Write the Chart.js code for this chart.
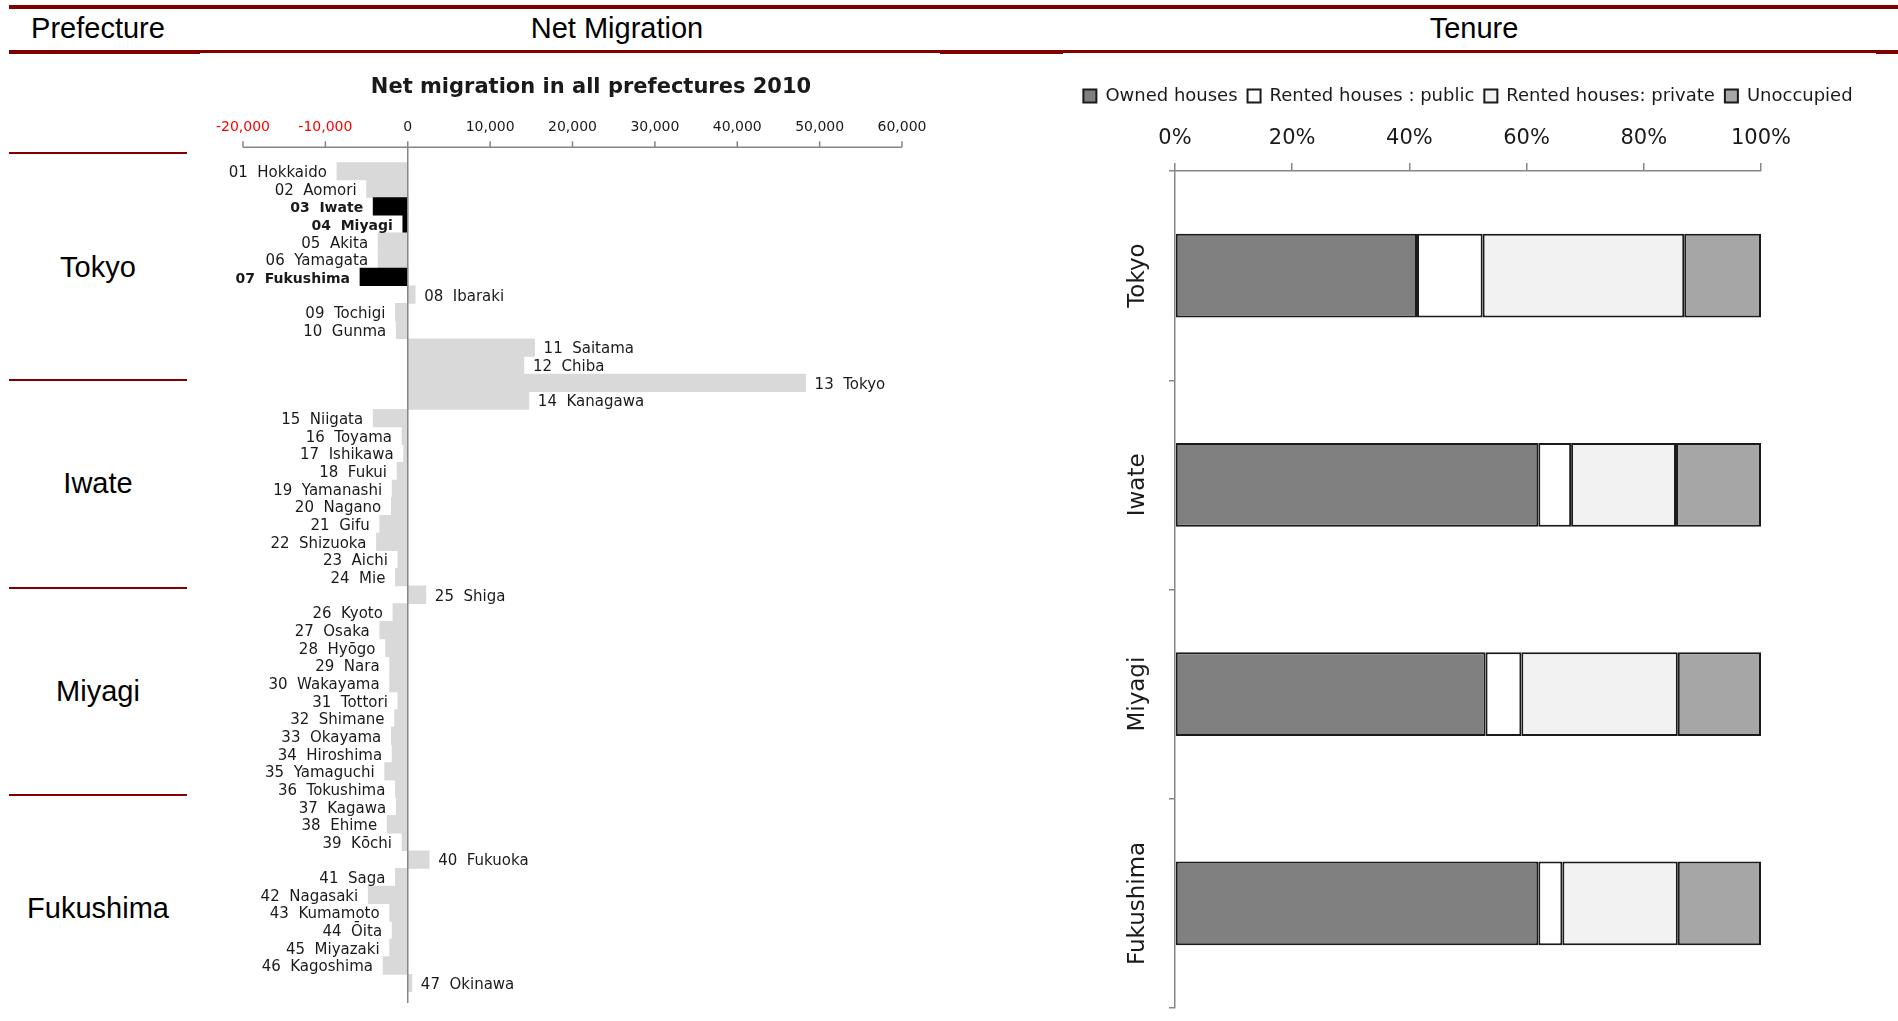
<!DOCTYPE html>
<html>
<head>
<meta charset="utf-8">
<script src="https://cdn.jsdelivr.net/npm/chart.js@4.4.1/dist/chart.umd.min.js"></script>
<style>
  html, body { margin: 0; padding: 0; background: #fff; }
  body { width: 1898px; height: 1021px; position: relative; overflow: hidden; font-family: "Liberation Sans", Arial, sans-serif; }
  .rule { position: absolute; background: #800000; }
  .head, .pref { position: absolute; font-size: 29px; color: #000; transform: translate(-50%, -50%); white-space: nowrap; }
  .box { position: absolute; }
</style>
</head>
<body>
<!-- table frame -->
<div class="rule" style="left:9px; top:5px; width:1889px; height:4px;"></div>
<div class="rule" style="left:9px; top:50px; width:191px; height:4px;"></div>
<div class="rule" style="left:200px; top:50px; width:1698px; height:3px;"></div>
<div class="rule" style="left:940px; top:51px; width:123px; height:3px;"></div>
<div class="rule" style="left:1876px; top:51px; width:22px; height:3px;"></div>

<div class="head" style="left:98px; top:28px;">Prefecture</div>
<div class="head" style="left:617px; top:28px;">Net Migration</div>
<div class="head" style="left:1474px; top:28px;">Tenure</div>

<div class="rule" style="left:9px; top:152px; width:178px; height:2px;"></div>
<div class="rule" style="left:9px; top:379px; width:178px; height:2px;"></div>
<div class="rule" style="left:9px; top:587px; width:178px; height:2px;"></div>
<div class="rule" style="left:9px; top:794px; width:178px; height:2px;"></div>

<div class="pref" style="left:98px; top:267px;">Tokyo</div>
<div class="pref" style="left:98px; top:483px;">Iwate</div>
<div class="pref" style="left:98px; top:691px;">Miyagi</div>
<div class="pref" style="left:98px; top:908px;">Fukushima</div>

<div class="box" style="left:160px; top:55px; width:800px; height:960px;"><canvas id="migrationChart"></canvas></div>
<div class="box" style="left:1063px; top:77px; width:810px; height:944px;"><canvas id="tenureChart"></canvas></div>

<script>
// Net migration 2010, all prefectures
const prefectures = ['01 Hokkaido', '02 Aomori', '03 Iwate', '04 Miyagi', '05 Akita', '06 Yamagata', '07 Fukushima',
    '08 Ibaraki', '09 Tochigi', '10 Gunma', '11 Saitama', '12 Chiba', '13 Tokyo', '14 Kanagawa',
    '15 Niigata', '16 Toyama', '17 Ishikawa', '18 Fukui', '19 Yamanashi', '20 Nagano', '21 Gifu',
    '22 Shizuoka', '23 Aichi', '24 Mie', '25 Shiga', '26 Kyoto', '27 Osaka', '28 Hyōgo', '29 Nara',
    '30 Wakayama', '31 Tottori', '32 Shimane', '33 Okayama', '34 Hiroshima', '35 Yamaguchi',
    '36 Tokushima', '37 Kagawa', '38 Ehime', '39 Kōchi', '40 Fukuoka', '41 Saga', '42 Nagasaki',
    '43 Kumamoto', '44 Ōita', '45 Miyazaki', '46 Kagoshima', '47 Okinawa'];
const netMigration = [-8600, -5000, -4200, -600, -3600, -3600, -5800,
    900, -1500, -1400, 15400, 14100, 48300, 14700,
    -4200, -700, -500, -1300, -1900, -2000, -3400,
    -3800, -1200, -1500, 2200, -1800, -3400, -2700, -2200,
    -2200, -1200, -1600, -2000, -1900, -2800,
    -1500, -1400, -2500, -700, 2600, -1500, -4800,
    -2200, -1900, -2200, -3000, 500];
const highlighted = ['03 Iwate', '04 Miyagi', '07 Fukushima'];
const migrationMin = -20000;
const migrationMax = 60000;
const migrationStep = 10000;

// Tenure shares (%)
const tenureRegions = ['Tokyo', 'Iwate', 'Miyagi', 'Fukushima'];
const tenureLabels = ['Owned houses', 'Rented houses : public', 'Rented houses: private', 'Unoccupied'];
const ownedHouses = [41.3, 62.0, 53.0, 62.0];
const rentedPublic = [11.2, 5.6, 6.1, 4.1];
const rentedPrivate = [34.4, 17.9, 26.7, 19.7];
const unoccupied = [13.1, 14.5, 14.2, 14.2];
const tenureColors = ['#808080', '#ffffff', '#f2f2f2', '#a6a6a6'];
const percentTicks = [0, 20, 40, 60, 80, 100];

const FONT = '"DejaVu Sans", Verdana, sans-serif';
const AXIS_GREY = '#868686';

// Axis line a little above the plot, tick marks and the zero line
const migrationAxis = {
    id: 'migrationAxis',
    afterDatasetsDraw(chart) {
        const {ctx, chartArea, scales: {x}} = chart;
        const axisY = chartArea.top - 15;
        ctx.save();
        ctx.strokeStyle = AXIS_GREY;
        ctx.lineWidth = 1.5;
        ctx.beginPath();
        ctx.moveTo(x.getPixelForValue(migrationMin), axisY);
        ctx.lineTo(x.getPixelForValue(migrationMax), axisY);
        x.ticks.forEach(t => {
            const px = x.getPixelForValue(t.value);
            ctx.moveTo(px, axisY);
            ctx.lineTo(px, axisY - 6);
        });
        const zx = x.getPixelForValue(0);
        ctx.moveTo(zx, axisY);
        ctx.lineTo(zx, chartArea.bottom + 11);
        ctx.stroke();
        ctx.restore();
    }
};

// Prefecture names next to the bar ends
const rowLabels = {
    id: 'rowLabels',
    afterDatasetsDraw(chart) {
        const ctx = chart.ctx;
        const meta = chart.getDatasetMeta(0);
        ctx.save();
        ctx.textBaseline = 'middle';
        ctx.fillStyle = '#1a1a1a';
        meta.data.forEach((bar, i) => {
            const name = prefectures[i];
            const bold = highlighted.includes(name);
            ctx.font = (bold ? 'bold 14px ' : '15px ') + FONT;
            const text = name.replace(' ', '  ');
            if (netMigration[i] < 0) {
                ctx.textAlign = 'right';
                ctx.fillText(text, Math.min(bar.x, bar.base) - 10, bar.y + 2);
            } else {
                ctx.textAlign = 'left';
                ctx.fillText(text, Math.max(bar.x, bar.base) + 9, bar.y + 2);
            }
        });
        ctx.restore();
    }
};

// Rotated region names on the tenure chart
const regionLabels = {
    id: 'regionLabels',
    afterDraw(chart) {
        const {ctx, chartArea, scales: {y}} = chart;
        ctx.save();
        ctx.font = '23px ' + FONT;
        ctx.fillStyle = '#1a1a1a';
        ctx.textAlign = 'center';
        ctx.textBaseline = 'middle';
        tenureRegions.forEach((name, i) => {
            ctx.save();
            ctx.translate(chartArea.left - 37, y.getPixelForValue(i));
            ctx.rotate(-Math.PI / 2);
            ctx.fillText(name, 0, 0);
            ctx.restore();
        });
        ctx.restore();
    }
};

function initMigrationChart() {
    const ctx = document.getElementById('migrationChart').getContext('2d');
    return new Chart(ctx, {
        type: 'bar',
        data: {
            labels: prefectures,
            datasets: [{
                label: 'Net migration',
                data: netMigration,
                backgroundColor: prefectures.map(p => highlighted.includes(p) ? '#000000' : '#d9d9d9'),
                borderWidth: 0,
                barPercentage: 1,
                categoryPercentage: 1
            }]
        },
        options: {
            indexAxis: 'y',
            responsive: true,
            maintainAspectRatio: false,
            animation: false,
            layout: { padding: { left: 83, right: 21, top: 0, bottom: 23 } },
            scales: {
                x: {
                    position: 'top',
                    min: migrationMin,
                    max: migrationMax,
                    grid: { display: false },
                    border: { display: false },
                    ticks: {
                        stepSize: migrationStep,
                        padding: 18,
                        font: { family: FONT, size: 14 },
                        color: c => c.tick.value < 0 ? '#ff0000' : '#1a1a1a',
                        callback: v => v.toLocaleString('en-US')
                    },
                    afterFit: s => { s.height = 50; }
                },
                y: { display: false },
                yRight: {
                    type: 'category',
                    position: 'right',
                    grid: { display: false },
                    border: { display: false },
                    ticks: { display: false },
                    afterFit: s => { s.width = 37; }
                }
            },
            plugins: {
                legend: { display: false },
                tooltip: { enabled: false },
                title: {
                    display: true,
                    text: 'Net migration in all prefectures 2010',
                    color: '#1a1a1a',
                    font: { family: FONT, size: 21, weight: 'bold' },
                    padding: { top: 20, bottom: 12 }
                }
            }
        },
        plugins: [migrationAxis, rowLabels]
    });
}

function initTenureChart() {
    const ctx = document.getElementById('tenureChart').getContext('2d');
    const series = [ownedHouses, rentedPublic, rentedPrivate, unoccupied];
    return new Chart(ctx, {
        type: 'bar',
        data: {
            labels: tenureRegions,
            datasets: series.map((values, i) => ({
                label: tenureLabels[i],
                data: values,
                backgroundColor: tenureColors[i],
                borderColor: '#1a1a1a',
                borderWidth: 2,
                borderSkipped: false,
                barPercentage: 0.4,
                categoryPercentage: 1
            }))
        },
        options: {
            indexAxis: 'y',
            responsive: true,
            maintainAspectRatio: false,
            animation: false,
            layout: { padding: { left: 0, right: 0, top: 0, bottom: 13 } },
            scales: {
                x: {
                    position: 'top',
                    stacked: true,
                    min: 0,
                    max: 100,
                    afterBuildTicks: s => { s.ticks = percentTicks.map(v => ({ value: v })); },
                    grid: { drawOnChartArea: false, tickLength: 8, color: AXIS_GREY, lineWidth: 1.5 },
                    border: { color: AXIS_GREY, width: 1.5 },
                    ticks: {
                        padding: 12,
                        font: { family: FONT, size: 21 },
                        color: '#1a1a1a',
                        callback: v => v + '%'
                    },
                    afterFit: s => { s.height = 56; }
                },
                y: {
                    stacked: true,
                    grid: { drawOnChartArea: false, tickLength: 6, color: AXIS_GREY, lineWidth: 1.5 },
                    border: { color: AXIS_GREY, width: 1.5 },
                    ticks: { display: false },
                    afterFit: s => { s.width = 112; }
                },
                yRight: {
                    type: 'category',
                    position: 'right',
                    grid: { display: false },
                    border: { display: false },
                    ticks: { display: false },
                    afterFit: s => { s.width = 112; }
                }
            },
            plugins: {
                tooltip: { enabled: false },
                legend: {
                    position: 'top',
                    labels: {
                        boxWidth: 13,
                        boxHeight: 13,
                        padding: 10,
                        color: '#1a1a1a',
                        font: { family: FONT, size: 18 }
                    }
                }
            }
        },
        plugins: [regionLabels]
    });
}

initMigrationChart();
initTenureChart();
</script>
</body>
</html>
